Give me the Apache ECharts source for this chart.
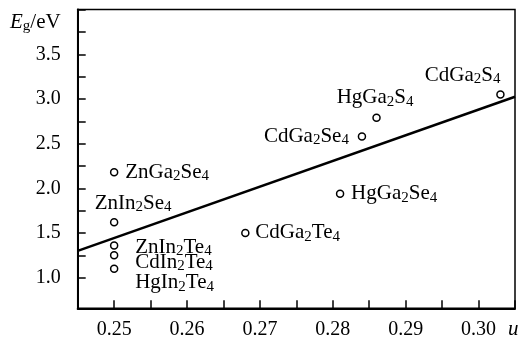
<!DOCTYPE html>
<html>
<head>
<meta charset="utf-8">
<script src="https://cdn.jsdelivr.net/npm/echarts@6/dist/echarts.min.js"></script>
<style>html,body{margin:0;padding:0;background:#fff}#c{width:518px;height:342px}</style>
</head>
<body>
<div id="c"></div>
<script>
// ---- data ----
var names = ['CdGa2S4','HgGa2S4','CdGa2Se4','ZnGa2Se4','ZnIn2Se4','ZnIn2Te4','CdIn2Te4','HgIn2Te4','CdGa2Te4','HgGa2Se4'];
var uVals = [0.303, 0.286, 0.284, 0.250, 0.250, 0.250, 0.250, 0.250, 0.268, 0.281];
var egVals = [3.05, 2.79, 2.58, 2.18, 1.62, 1.36, 1.25, 1.10, 1.50, 1.94];
var fitU = [0.245, 0.305];
var fitE = [1.30, 3.025];
var xTicks = [0.25, 0.26, 0.27, 0.28, 0.29, 0.30];
var yTicks = [1.0, 1.5, 2.0, 2.5, 3.0, 3.5];

// ---- label placement (style only) ----
var labelAligns = ['right','right','right','left','center','left','left','left','left','left'];
var labelOffsets = [[0,-19],[37,-20],[-13,0],[11,0],[19,-19],[21,2],[21,7],[21,14],[10,0],[11,0]];

var FONT = '"Liberation Serif","DejaVu Serif",serif';
function richName(n){ return n.replace(/(\d)/g, '{s|$1}'); }

var scatterData = names.map(function(n,i){
  return {
    name: n,
    value: [uVals[i], egVals[i]],
    label: {offset: labelOffsets[i], align: labelAligns[i]}
  };
});

var chart = echarts.init(document.getElementById('c'), null, {renderer:'canvas'});
chart.setOption({
  animation: false,
  backgroundColor: '#fff',
  title: [
    {text: '{i|E}{g|g}{t|/eV}', left: 5, top: 6, padding: 5,
     textStyle: {fontWeight: 'normal', rich: {
       i: {fontFamily: FONT, fontStyle: 'italic', fontWeight: 'normal', fontSize: 21, color: '#000'},
       g: {fontFamily: FONT, fontWeight: 'normal', fontSize: 15, color: '#000', padding: [8,0,0,0]},
       t: {fontFamily: FONT, fontWeight: 'normal', fontSize: 21, color: '#000'}
     }}},
    {text: 'u', left: 503, top: 314, padding: 5,
     textStyle: {fontFamily: FONT, fontStyle: 'italic', fontWeight: 'normal', fontSize: 21, color: '#000'}}
  ],
  grid: [
    {left: 77.7, right: 3, top: 9.6, bottom: 33.7, show: true, borderColor: '#000', borderWidth: 1.5, backgroundColor: 'transparent'},
    {left: 77.7, right: 3, top: 9.6, bottom: 64.3, show: false}
  ],
  xAxis: [
    {gridIndex: 0, type: 'value', min: 0.245, max: 0.305, interval: 0.005,
     axisLine: {show: true, lineStyle: {color: '#000', width: 2}},
     axisTick: {show: true, inside: true, length: 8, lineStyle: {color: '#000', width: 1.5}},
     splitLine: {show: false},
     axisLabel: {margin: 11, fontFamily: FONT, fontSize: 20, color: '#000',
       formatter: function(v){
         for (var k=0;k<xTicks.length;k++){ if (Math.abs(v-xTicks[k])<1e-6) return xTicks[k].toFixed(2); }
         return '';
       }}},
    {gridIndex: 1, type: 'value', min: 0, max: 1, show: false}
  ],
  yAxis: [
    {gridIndex: 0, type: 'value', min: 0.657, max: 4.0,
     axisLine: {show: true, lineStyle: {color: '#000', width: 2}},
     axisTick: {show: false}, axisLabel: {show: false}, splitLine: {show: false}},
    {gridIndex: 1, type: 'value', min: 1.0, max: 4.0, interval: 0.25,
     axisLine: {show: false},
     axisTick: {show: true, inside: true, length: 8, lineStyle: {color: '#000', width: 1.5}},
     splitLine: {show: false},
     axisLabel: {margin: 17, fontFamily: FONT, fontSize: 20, color: '#000',
       formatter: function(v){
         for (var k=0;k<yTicks.length;k++){ if (Math.abs(v-yTicks[k])<1e-6) return yTicks[k].toFixed(1); }
         return '';
       }}}
  ],
  series: [
    {type: 'line', xAxisIndex: 0, yAxisIndex: 0, symbol: 'none',
     data: fitU.map(function(u,i){ return [u, fitE[i]]; }),
     lineStyle: {color: '#000', width: 2.5}, z: 2},
    {type: 'scatter', xAxisIndex: 0, yAxisIndex: 0, symbol: 'circle', symbolSize: 7,
     itemStyle: {color: '#fff', borderColor: '#000', borderWidth: 1.5, opacity: 1},
     data: scatterData, z: 3,
     label: {show: true, position: 'inside', verticalAlign: 'middle',
       fontFamily: FONT, fontSize: 21, color: '#000',
       formatter: function(p){ return richName(p.name); },
       rich: {s: {fontFamily: FONT, fontSize: 15, color: '#000', padding: [8,0,0,0]}}}}
  ]
});
</script>
</body>
</html>
